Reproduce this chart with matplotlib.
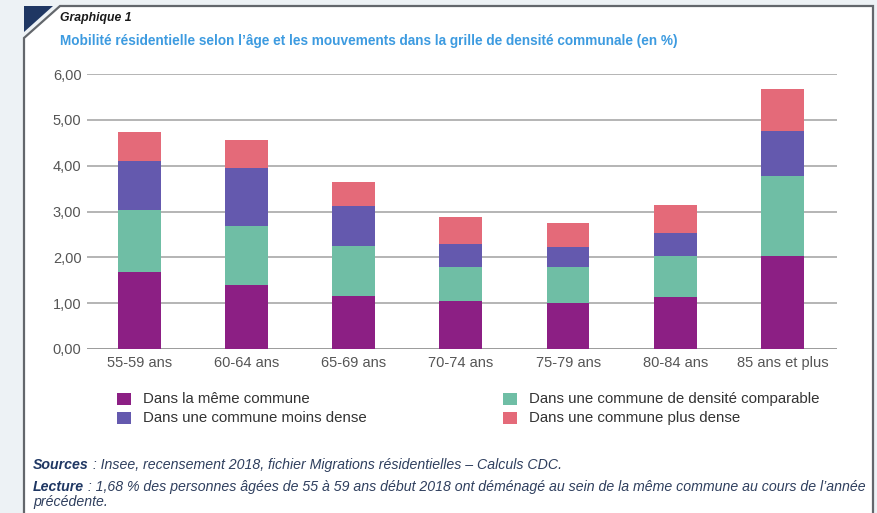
import matplotlib
matplotlib.use("Agg")
import matplotlib.pyplot as plt
from matplotlib.patches import Polygon, Rectangle
import numpy as np

W, H = 878, 513

categories = ["55-59 ans", "60-64 ans", "65-69 ans", "70-74 ans",
              "75-79 ans", "80-84 ans", "85 ans et plus"]
meme_commune = [1.68, 1.40, 1.16, 1.05, 1.00, 1.14, 2.02]
densite_comparable = [1.35, 1.28, 1.09, 0.75, 0.80, 0.90, 1.76]
moins_dense = [1.07, 1.26, 0.86, 0.50, 0.43, 0.49, 0.98]
plus_dense = [0.63, 0.63, 0.54, 0.57, 0.52, 0.61, 0.92]
y_ticks = [0, 1, 2, 3, 4, 5, 6]

series = [
    ("Dans la même commune", meme_commune, "#8c1f84"),
    ("Dans une commune de densité comparable", densite_comparable, "#6fbea5"),
    ("Dans une commune moins dense", moins_dense, "#6459ae"),
    ("Dans une commune plus dense", plus_dense, "#e46a79"),
]

plt.rcParams["font.family"] = ["Liberation Sans", "DejaVu Sans"]


def fx(px):
    return px / W


def fy(py):
    return 1 - py / H


fig = plt.figure(figsize=(W / 100, H / 100), dpi=100)
fig.patch.set_facecolor("#edf2f5")

# white panel with cut corner
panel = Polygon([(fx(24), fy(38)), (fx(60), fy(6)), (fx(873), fy(6)),
                 (fx(873), fy(520)), (fx(24), fy(520))],
                closed=True, transform=fig.transFigure, facecolor="white",
                edgecolor="#63676c", linewidth=1.6, zorder=-3)
fig.patches.append(panel)
corner = Polygon([(fx(24), fy(6)), (fx(53), fy(6)), (fx(24), fy(32))],
                 closed=True, transform=fig.transFigure,
                 facecolor="#1f3763", edgecolor="none", zorder=-2)
fig.patches.append(corner)

fig.text(fx(60), fy(18), "Graphique 1", fontsize=8.8, fontweight="bold",
         fontstyle="italic", color="#1a1a1a", va="center")
fig.text(fx(60), fy(41),
         "Mobilité résidentielle selon l’âge et les mouvements dans la grille "
         "de densité communale (en %)",
         fontsize=9.8, fontweight="bold", color="#3d9be0", va="center")

ax = fig.add_axes([fx(87), fy(349), fx(837) - fx(87), fy(74) - fy(349)])
x = np.arange(len(categories))
bottom = np.zeros(len(categories))
for label, vals, color in series:
    ax.bar(x, vals, width=0.4, bottom=bottom, color=color, zorder=3,
           label=label)
    bottom += np.array(vals)

ax.set_xlim(-0.49, 6.51)
ax.set_ylim(0, 6)
ax.set_yticks(y_ticks)
ax.set_yticklabels([f"{v:.2f}".replace(".", ",") for v in y_ticks])
ax.set_xticks(x)
ax.set_xticklabels(categories)
ax.tick_params(axis="both", length=0, labelsize=10.5, colors="#555555")
ax.tick_params(axis="y", pad=4)
ax.tick_params(axis="x", pad=5)
for t in y_ticks:
    ax.axhline(t, color="#a0a0a0" if t else "#808080", linewidth=1.1,
               zorder=1)
for s in ax.spines.values():
    s.set_visible(False)
ax.set_facecolor("none")

# legend, two columns
legend_rows = [(117, 399, 0), (117, 418, 2), (503, 399, 1), (503, 418, 3)]
for px, py, i in legend_rows:
    label, _, color = series[i]
    fig.patches.append(Rectangle((fx(px), fy(py + 6)), fx(14), 12 / H,
                                 transform=fig.transFigure, facecolor=color,
                                 edgecolor="none"))
    fig.text(fx(px + 26), fy(py), label, fontsize=10.8, color="#333333",
             va="center")

# notes
renderer = fig.canvas.get_renderer()
notes = [
    (465, "Sources", " : Insee, recensement 2018, fichier Migrations "
                     "résidentielles – Calculs CDC."),
    (487, "Lecture", " : 1,68 % des personnes âgées de 55 à 59 ans début 2018 "
                     "ont déménagé au sein de la même commune au cours de l’année"),
]
for py, head, rest in notes:
    t = fig.text(fx(33), fy(py), head, fontsize=10.2, fontweight="bold",
                 fontstyle="italic", color="#1f3763", va="center")
    bb = t.get_window_extent(renderer)
    fig.text(bb.x1 / W, fy(py), rest, fontsize=10.2, fontstyle="italic",
             color="#2f3f5e", va="center")
fig.text(fx(33), fy(502), "précédente.", fontsize=10.2, fontstyle="italic",
         color="#2f3f5e", va="center")

fig.savefig("out.png", dpi=100)
